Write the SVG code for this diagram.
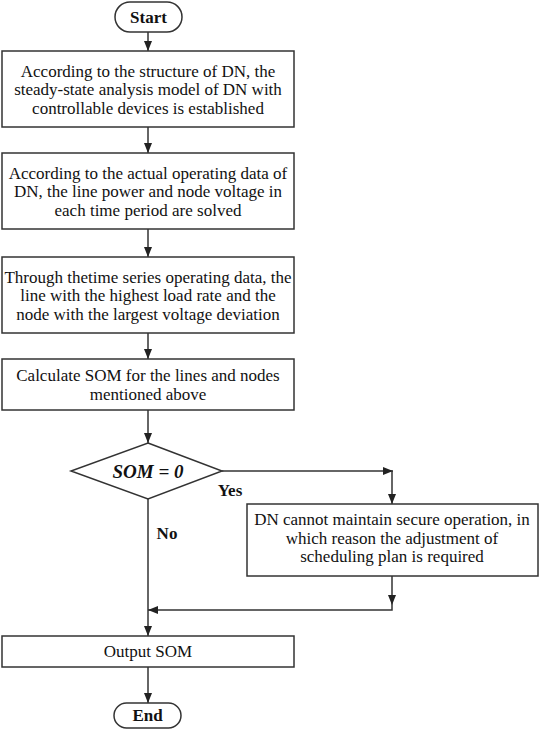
<svg xmlns="http://www.w3.org/2000/svg" width="540" height="730" viewBox="0 0 540 730">
<defs>
<marker id="ah" markerWidth="10" markerHeight="8" refX="10" refY="4" orient="auto" markerUnits="userSpaceOnUse">
<path d="M0,0 L10,4 L0,8 Z" fill="#222"/>
</marker>
<style>
.box{fill:#fff;stroke:#333;stroke-width:1.5}
.t{font-family:"Liberation Serif","Times New Roman",serif;font-size:17px;fill:#111;text-anchor:middle}
.b{font-weight:bold}
.ln{fill:none;stroke:#333;stroke-width:1.5}
</style>
</defs>
<rect width="540" height="730" fill="#fff"/>
<g id="connectors">
<path class="ln" d="M148,32 V51" marker-end="url(#ah)"/>
<path class="ln" d="M148,127 V153" marker-end="url(#ah)"/>
<path class="ln" d="M148,229 V257" marker-end="url(#ah)"/>
<path class="ln" d="M148,333 V359" marker-end="url(#ah)"/>
<path class="ln" d="M148,410 V443" marker-end="url(#ah)"/>
<path class="ln" d="M222,471 H393" marker-end="url(#ah)"/>
<path class="ln" d="M392,471 V504" marker-end="url(#ah)"/>
<path class="ln" d="M148,499 V636" marker-end="url(#ah)"/>
<path class="ln" d="M392,576 V605" marker-end="url(#ah)"/>
<path class="ln" d="M392,605 V610 H148" marker-end="url(#ah)"/>
<path class="ln" d="M148,667 V703" marker-end="url(#ah)"/>
<text class="t b" x="230" y="496">Yes</text>
<text class="t b" x="167" y="539">No</text>
</g>
<g id="start">
<rect class="box" x="115" y="2" width="67" height="30" rx="15"/>
<text class="t b" x="148.5" y="23">Start</text>
</g>
<g id="box1">
<rect class="box" x="2" y="51" width="292" height="76"/>
<text class="t" x="148" y="76.5">According to the structure of DN, the</text>
<text class="t" x="148" y="95">steady-state analysis model of DN with</text>
<text class="t" x="148" y="113.5">controllable devices is established</text>
</g>
<g id="box2">
<rect class="box" x="2" y="153" width="292" height="76"/>
<text class="t" x="148" y="178.5">According to the actual operating data of</text>
<text class="t" x="148" y="197">DN, the line power and node voltage in</text>
<text class="t" x="148" y="215.5">each time period are solved</text>
</g>
<g id="box3">
<rect class="box" x="2" y="257" width="292" height="76"/>
<text class="t" x="148" y="282.5">Through thetime series operating data, the</text>
<text class="t" x="148" y="301">line with the highest load rate and the</text>
<text class="t" x="148" y="319.5">node with the largest voltage deviation</text>
</g>
<g id="box4">
<rect class="box" x="2" y="359" width="292" height="51"/>
<text class="t" x="148" y="381">Calculate SOM for the lines and nodes</text>
<text class="t" x="148" y="399.5">mentioned above</text>
</g>
<g id="decision">
<polygon class="box" points="148,443 222,471 148,499 71,471"/>
<text class="t b" x="148" y="478" style="font-style:italic;font-size:19px">SOM = 0</text>
</g>
<g id="box5">
<rect class="box" x="247" y="504" width="291" height="72"/>
<text class="t" x="392" y="525">DN cannot maintain secure operation, in</text>
<text class="t" x="392" y="543.5">which reason the adjustment of</text>
<text class="t" x="392" y="562">scheduling plan is required</text>
</g>
<g id="output">
<rect class="box" x="2" y="636" width="292" height="31"/>
<text class="t" x="148" y="657">Output SOM</text>
</g>
<g id="end">
<rect class="box" x="114" y="703" width="67" height="25" rx="12.5"/>
<text class="t b" x="147.5" y="721">End</text>
</g>
</svg>
